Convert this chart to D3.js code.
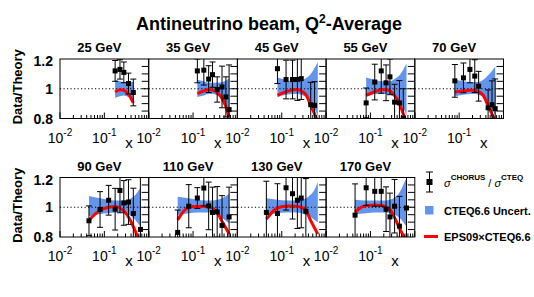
<!DOCTYPE html>
<html><head><meta charset="utf-8">
<script src="https://cdn.jsdelivr.net/npm/d3@7/dist/d3.min.js"></script>
<style>
body{margin:0;background:#fff;}
svg{display:block;font-family:"Liberation Sans",Arial,Helvetica,sans-serif;}
</style></head>
<body>
<svg id="c" width="534" height="297"></svg>
<script>
// ---------- data ----------
const titles = ["25 GeV","35 GeV","45 GeV","55 GeV","70 GeV","90 GeV","110 GeV","130 GeV","170 GeV"];
const yTicks = [0.8, 1, 1.2];
const yTickLabels = ["0.8","1","1.2"];

// data points: x, ratio, error
const ptX25 = [0.175,0.225,0.275,0.35,0.45];
const ptY25 = [1.12,1.13,1.11,1.035,0.975];
const ptE25 = [0.07,0.065,0.07,0.07,0.09];
const ptX35 = [0.125,0.175,0.225,0.275,0.35,0.45,0.55,0.65];
const ptY35 = [1.12,1.125,1.065,1.095,0.995,1.012,0.945,0.86];
const ptE35 = [0.08,0.1,0.09,0.085,0.085,0.14,0.135,0.3];
const ptX45 = [0.08,0.125,0.175,0.225,0.275,0.45,0.55];
const ptY45 = [1.135,1.062,1.062,1.062,1.068,0.893,0.888];
const ptE45 = [0.1,0.13,0.13,0.14,0.14,0.15,0.16];
const ptX55 = [0.08,0.125,0.175,0.225,0.275,0.35,0.45,0.55];
const ptY55 = [0.905,1.045,1.12,1.04,1.08,0.91,0.905,0.8];
const ptE55 = [0.1,0.12,0.15,0.12,0.12,0.12,0.15,0.2];
const ptX70 = [0.08,0.125,0.175,0.225,0.275,0.45,0.55,0.65];
const ptY70 = [1.053,1.073,1.13,1.085,1.017,0.872,0.893,0.866];
const ptE70 = [0.11,0.1,0.09,0.11,0.1,0.12,0.16,0.2];
const ptX90 = [0.045,0.08,0.125,0.175,0.225,0.275,0.35,0.45,0.65];
const ptY90 = [0.909,0.985,1.047,0.987,1.113,1.029,1.035,0.958,0.851];
const ptE90 = [0.1,0.12,0.1,0.14,0.15,0.15,0.15,0.17,0.5];
const ptX110 = [0.045,0.08,0.125,0.175,0.225,0.275,0.35,0.45,0.65];
const ptY110 = [0.831,1.007,1.062,1.129,1.009,0.965,0.969,0.878,0.935];
const ptE110 = [0.15,0.145,0.07,0.12,0.16,0.17,0.17,0.2,0.2];
const ptX130 = [0.045,0.08,0.125,0.175,0.225,0.275,0.35];
const ptY130 = [0.965,0.958,1.131,1.091,1.047,1.062,0.973];
const ptE130 = [0.21,0.2,0.15,0.17,0.19,0.2,0.22];
const ptX170 = [0.045,0.08,0.125,0.175,0.225,0.275,0.35,0.45,0.65];
const ptY170 = [0.947,1.131,1.107,1.107,0.987,0.935,1.007,0.873,0.995];
const ptE170 = [0.21,0.12,0.1,0.1,0.15,0.16,0.18,0.2,0.5];

// theory grids: band low/high (CTEQ6.6 uncertainty) and EPS09 curve
const grid25 = [0.175,0.225,0.275,0.35,0.45];
const lo25 = [0.94,0.95,0.955,0.945,0.925];
const hi25 = [1.06,1.05,1.045,1.045,1.045];
const red25 = [0.978,0.993,0.99,0.963,0.905];
const grid35 = [0.125,0.175,0.225,0.275,0.35,0.45,0.55,0.65];
const lo35 = [0.945,0.955,0.965,0.965,0.955,0.93,0.89,0.845];
const hi35 = [1.06,1.05,1.04,1.04,1.04,1.045,1.055,1.07];
const red35 = [0.967,0.985,0.995,0.99,0.975,0.935,0.88,0.81];
const grid45 = [0.08,0.125,0.175,0.225,0.275,0.35,0.45,0.55,0.65];
const lo45 = [0.945,0.96,0.965,0.965,0.96,0.945,0.915,0.87,0.81];
const hi45 = [1.075,1.06,1.05,1.05,1.055,1.07,1.1,1.14,1.18];
const red45 = [0.956,0.98,0.992,0.995,0.985,0.96,0.89,0.83,0.78];
const grid55 = [0.08,0.125,0.175,0.225,0.275,0.35,0.45,0.55,0.65];
const lo55 = [0.955,0.965,0.965,0.965,0.96,0.945,0.915,0.87,0.82];
const hi55 = [1.075,1.06,1.05,1.05,1.05,1.065,1.09,1.13,1.17];
const red55 = [0.955,0.98,0.993,0.995,0.985,0.955,0.9,0.83,0.77];
const grid70 = [0.08,0.125,0.175,0.225,0.275,0.35,0.45,0.55,0.65];
const lo70 = [0.95,0.96,0.965,0.965,0.96,0.945,0.915,0.87,0.82];
const hi70 = [1.06,1.05,1.045,1.045,1.045,1.06,1.09,1.12,1.15];
const red70 = [0.978,0.985,0.99,0.99,0.98,0.955,0.885,0.83,0.78];
const grid90 = [0.045,0.08,0.125,0.175,0.225,0.275,0.35,0.45,0.55,0.65];
const lo90 = [0.94,0.955,0.96,0.965,0.965,0.96,0.95,0.93,0.9,0.87];
const hi90 = [1.075,1.06,1.05,1.045,1.045,1.045,1.05,1.07,1.1,1.13];
const red90 = [0.913,0.98,1.0,1.005,0.995,0.975,0.935,0.87,0.81,0.76];
const grid110 = [0.045,0.08,0.125,0.175,0.225,0.275,0.35,0.45,0.55,0.65];
const lo110 = [0.95,0.96,0.965,0.965,0.965,0.96,0.95,0.93,0.91,0.89];
const hi110 = [1.07,1.06,1.05,1.045,1.045,1.045,1.05,1.06,1.075,1.09];
const red110 = [0.915,1.0,1.005,1.007,1.007,0.995,0.965,0.905,0.86,0.82];
const grid130 = [0.045,0.08,0.125,0.175,0.225,0.275,0.35,0.45,0.55,0.65];
const lo130 = [0.95,0.96,0.965,0.965,0.965,0.96,0.95,0.935,0.915,0.9];
const hi130 = [1.06,1.05,1.045,1.045,1.045,1.05,1.06,1.085,1.12,1.17];
const red130 = [0.92,0.995,1.007,1.008,1.005,1.0,0.98,0.91,0.86,0.82];
const grid170 = [0.045,0.08,0.125,0.175,0.225,0.275,0.35,0.45,0.55,0.65];
const lo170 = [0.955,0.96,0.965,0.965,0.965,0.96,0.95,0.93,0.9,0.87];
const hi170 = [1.05,1.045,1.045,1.045,1.045,1.05,1.065,1.1,1.15,1.2];
const red170 = [0.968,1.012,1.013,1.013,1.0,0.985,0.93,0.86,0.81,0.77];

const legendLabels = ["CTEQ6.6 Uncert.", "EPS09\u00D7CTEQ6.6"];

const panels = [
  {pts:[ptX25,ptY25,ptE25], th:[grid25,lo25,hi25,red25]},
  {pts:[ptX35,ptY35,ptE35], th:[grid35,lo35,hi35,red35]},
  {pts:[ptX45,ptY45,ptE45], th:[grid45,lo45,hi45,red45]},
  {pts:[ptX55,ptY55,ptE55], th:[grid55,lo55,hi55,red55]},
  {pts:[ptX70,ptY70,ptE70], th:[grid70,lo70,hi70,red70]},
  {pts:[ptX90,ptY90,ptE90], th:[grid90,lo90,hi90,red90]},
  {pts:[ptX110,ptY110,ptE110], th:[grid110,lo110,hi110,red110]},
  {pts:[ptX130,ptY130,ptE130], th:[grid130,lo130,hi130,red130]},
  {pts:[ptX170,ptY170,ptE170], th:[grid170,lo170,hi170,red170]}
];

// ---------- layout ----------
const svg = d3.select("#c");
const left0 = 60, pw = 88.7, ph = 59.5;
const rowTop = [59, 177.5];
const BLUE = "#6495ed", RED = "#ff0000";

// title
const t = svg.append("text").attr("x", 269).attr("y", 30).attr("text-anchor","middle")
  .attr("font-size", 18).attr("font-weight","bold").attr("fill","#000");
t.append("tspan").text("Antineutrino beam, Q");
t.append("tspan").attr("dy",-7).attr("font-size",12).text("2");
t.append("tspan").attr("dy",7).text("-Average");

const defs = svg.append("defs");

panels.forEach((p, i) => {
  const row = i < 5 ? 0 : 1;
  const col = i < 5 ? i : i - 5;
  const x0 = left0 + col * pw, y0 = rowTop[row];
  const x = d3.scaleLog().domain([0.01, 1]).range([x0, x0 + pw]);
  const y = d3.scaleLinear().domain([0.8, 1.2]).range([y0 + ph, y0]);
  const g = svg.append("g");
  const cid = "clip" + i;
  defs.append("clipPath").attr("id", cid).append("rect")
    .attr("x", x0).attr("y", y0).attr("width", pw).attr("height", ph);
  const gc = g.append("g").attr("clip-path", `url(#${cid})`);

  const [gx, lo, hi, rd] = p.th;
  const band = gx.map((v, k) => ({x: v, lo: lo[k], hi: hi[k], r: rd[k]}));
  gc.append("path").datum(band)
    .attr("d", d3.area().curve(d3.curveMonotoneX).x(d => x(d.x)).y0(d => y(d.lo)).y1(d => y(d.hi)))
    .attr("fill", BLUE);
  // dotted line at 1
  gc.append("line").attr("x1", x0).attr("x2", x0 + pw).attr("y1", y(1)).attr("y2", y(1))
    .attr("stroke", "#000").attr("stroke-width", 1).attr("stroke-dasharray", "1.2,2.3");
  gc.append("path").datum(band)
    .attr("d", d3.line().curve(d3.curveMonotoneX).x(d => x(d.x)).y(d => y(d.r)))
    .attr("fill", "none").attr("stroke", RED).attr("stroke-width", 3);

  // data points with error bars
  const [px, py, pe] = p.pts;
  const pts = px.map((v, k) => ({x: v, y: py[k], e: pe[k]}));
  const eg = gc.selectAll("g.pt").data(pts).join("g");
  eg.append("line").attr("x1", d => x(d.x)).attr("x2", d => x(d.x))
    .attr("y1", d => y(d.y - d.e)).attr("y2", d => y(d.y + d.e)).attr("stroke", "#000").attr("stroke-width", 1);
  eg.append("line").attr("x1", d => x(d.x) - 3).attr("x2", d => x(d.x) + 3)
    .attr("y1", d => y(d.y - d.e)).attr("y2", d => y(d.y - d.e)).attr("stroke", "#000").attr("stroke-width", 1);
  eg.append("line").attr("x1", d => x(d.x) - 3).attr("x2", d => x(d.x) + 3)
    .attr("y1", d => y(d.y + d.e)).attr("y2", d => y(d.y + d.e)).attr("stroke", "#000").attr("stroke-width", 1);
  eg.append("rect").attr("x", d => x(d.x) - 2.5).attr("y", d => y(d.y) - 2.5)
    .attr("width", 5).attr("height", 5).attr("fill", "#000");

  // right-side y ticks (inward)
  const yt = d3.range(0.85, 1.16, 0.05);
  g.selectAll("line.yt").data(yt).join("line")
    .attr("x1", x0 + pw - 7).attr("x2", x0 + pw).attr("y1", d => y(d)).attr("y2", d => y(d))
    .attr("stroke", "#000").attr("stroke-width", 1);
  // bottom x ticks (log minor/major)
  const xt = x.ticks();
  g.selectAll("line.xt").data(xt).join("line")
    .attr("x1", d => x(d)).attr("x2", d => x(d))
    .attr("y1", y0 + ph).attr("y2", d => y0 + ph - (Math.abs(Math.log10(d) - Math.round(Math.log10(d))) < 1e-6 ? 6 : 3.5))
    .attr("stroke", "#000").attr("stroke-width", 1);

  // frame
  g.append("rect").attr("x", x0).attr("y", y0).attr("width", pw).attr("height", ph)
    .attr("fill", "none").attr("stroke", "#000").attr("stroke-width", 1);

  // panel title
  svg.append("text").attr("x", x0 + pw / 2 - 5).attr("y", y0 - 7).attr("text-anchor", "middle")
    .attr("font-size", 13).attr("font-weight", "bold").text(titles[i]);

  // x tick labels 10^-2, 10^-1
  [0.01, 0.1].forEach(v => {
    const lt = svg.append("text").attr("x", x(v)).attr("y", y0 + ph + 24).attr("text-anchor", "middle")
      .attr("font-size", 14);
    lt.append("tspan").text("10");
    lt.append("tspan").attr("dy", -7).attr("font-size", 10).text("-" + Math.round(-Math.log10(v)));
  });
  svg.append("text").attr("x", x0 + 69).attr("y", y0 + ph + 29).attr("text-anchor", "middle")
    .attr("font-size", 15).text("x");

  // y labels on first column
  if (col === 0) {
    yTicks.forEach((v, k) => {
      svg.append("text").attr("x", 53).attr("y", y(v) + 5 + (v === 1.2 ? 2 : 0)).attr("text-anchor", "end")
        .attr("font-size", 14).attr("font-weight", "bold").text(yTickLabels[k]);
    });
    svg.append("text").attr("transform", `translate(22,${y0 + ph / 2 - 2}) rotate(-90)`)
      .attr("text-anchor", "middle").attr("font-size", 13).attr("font-weight", "bold").text("Data/Theory");
  }
});

// ---------- legend ----------
const lg = svg.append("g");
const lx = 429.5;
lg.append("line").attr("x1", lx).attr("x2", lx).attr("y1", 172).attr("y2", 192).attr("stroke", "#000");
lg.append("line").attr("x1", lx - 3.5).attr("x2", lx + 3.5).attr("y1", 172).attr("y2", 172).attr("stroke", "#000");
lg.append("line").attr("x1", lx - 3.5).attr("x2", lx + 3.5).attr("y1", 192).attr("y2", 192).attr("stroke", "#000");
lg.append("rect").attr("x", lx - 3).attr("y", 179).attr("width", 6).attr("height", 6).attr("fill", "#000");
const st = lg.append("text").attr("x", 444).attr("y", 187).attr("font-size", 11);
st.append("tspan").attr("font-style", "italic").text("\u03C3");
st.append("tspan").attr("dy", -7).attr("font-size", 8).attr("font-weight", "bold").text("CHORUS");
st.append("tspan").attr("dy", 7).attr("dx", 3).text("/ ");
st.append("tspan").attr("font-style", "italic").text("\u03C3");
st.append("tspan").attr("dy", -7).attr("font-size", 8).attr("font-weight", "bold").text("CTEQ");

lg.append("rect").attr("x", 425).attr("y", 206).attr("width", 8.5).attr("height", 8.5).attr("fill", BLUE);
lg.append("text").attr("x", 444).attr("y", 214.5).attr("font-size", 11).attr("font-weight", "bold").text(legendLabels[0]);
lg.append("line").attr("x1", 424).attr("x2", 438).attr("y1", 236.5).attr("y2", 236.5).attr("stroke", RED).attr("stroke-width", 3);
lg.append("text").attr("x", 444).attr("y", 240.5).attr("font-size", 11).attr("font-weight", "bold").text(legendLabels[1]);
</script>
</body></html>
